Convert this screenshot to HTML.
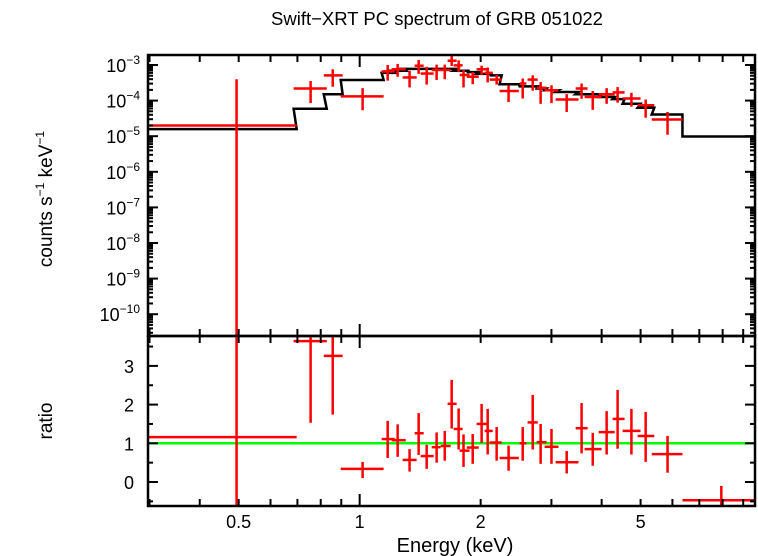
<!DOCTYPE html>
<html><head><meta charset="utf-8"><style>
html,body{margin:0;padding:0;background:#fff;}
svg{display:block;font-family:"Liberation Sans",sans-serif;}
</style></head><body>
<svg id="chart" width="758" height="556" viewBox="0 0 758 556" xmlns="http://www.w3.org/2000/svg">
<text x="437" y="25" font-size="18.5" text-anchor="middle">Swift−XRT PC spectrum of GRB 051022</text>
<g id="topPanel"></g>
<g id="botPanel"></g>
<text transform="translate(52,199) rotate(-90)" font-size="19" text-anchor="middle">counts s<tspan font-size="12" dy="-8">−1</tspan><tspan dy="8"> keV</tspan><tspan font-size="12" dy="-8">−1</tspan></text>
<text transform="translate(52,421) rotate(-90)" font-size="19" text-anchor="middle">ratio</text>
<text x="455" y="552" font-size="20" text-anchor="middle">Energy (keV)</text>
</svg>
<script>
const eCen=[0.494,0.755,0.857,1.017,1.174,1.243,1.331,1.402,1.468,1.554,1.628,1.694,1.763,1.813,1.911,2.011,2.082,2.192,2.347,2.545,2.695,2.820,3.001,3.274,3.566,3.801,4.116,4.383,4.744,5.147,5.835,7.94];
const eLo=[0.297,0.685,0.814,0.897,1.134,1.201,1.279,1.370,1.418,1.511,1.590,1.655,1.713,1.773,1.847,1.954,2.046,2.106,2.229,2.500,2.617,2.757,2.885,3.073,3.447,3.628,3.933,4.259,4.510,4.916,5.329,6.355];
const eHi=[0.697,0.828,0.907,1.147,1.222,1.302,1.386,1.443,1.528,1.590,1.684,1.743,1.804,1.877,1.978,2.094,2.143,2.256,2.489,2.599,2.773,2.917,3.124,3.503,3.691,3.998,4.311,4.562,4.998,5.408,6.355,9.63];
const specLog=[-4.70,-3.66,-3.29,-3.88,-3.18,-3.12,-3.35,-3.02,-3.24,-3.14,-3.14,-2.88,-3.01,-3.28,-3.33,-3.12,-3.22,-3.41,-3.73,-3.52,-3.41,-3.64,-3.71,-3.97,-3.66,-3.90,-3.82,-3.77,-3.94,-4.13,-4.53,null];
const specErrUp=[-3.4,-3.45,-3.12,-3.65,-3.0,-2.97,-3.16,-2.86,-3.05,-2.99,-2.99,-2.72,-2.87,-3.14,-3.20,-3.02,-3.07,-3.28,-3.57,-3.38,-3.29,-3.48,-3.57,-3.82,-3.52,-3.73,-3.65,-3.62,-3.78,-3.97,-4.32,null];
const specErrDn=[-12,-4.07,-3.61,-4.27,-3.44,-3.33,-3.63,-3.25,-3.55,-3.42,-3.40,-3.03,-3.20,-3.63,-3.54,-3.28,-3.49,-3.55,-4.04,-3.94,-3.72,-4.09,-4.07,-4.32,-3.95,-4.26,-4.09,-4.06,-4.17,-4.48,-4.96,null];
const modelLog=[-4.80,-4.23,-3.82,-3.42,-3.22,-3.16,-3.11,-3.11,-3.11,-3.11,-3.11,-3.11,-3.16,-3.16,-3.20,-3.25,-3.25,-3.29,-3.54,-3.60,-3.60,-3.66,-3.71,-3.76,-3.82,-3.82,-3.90,-3.96,-4.09,-4.20,-4.39,-5.01];
const ratio=[1.16,3.64,3.26,0.34,1.11,1.08,0.57,1.26,0.67,0.90,0.93,2.02,1.37,0.81,0.89,1.50,1.32,1.02,0.62,1.00,1.54,1.03,0.91,0.51,1.39,0.85,1.29,1.63,1.32,1.19,0.72,-0.47];
const ratioUp=[9,9,9,0.52,1.58,1.49,0.85,1.78,0.96,1.28,1.32,2.64,1.90,1.23,1.24,2.02,1.89,1.42,0.94,1.42,2.25,1.50,1.37,0.80,2.04,1.27,1.83,2.38,1.89,1.81,1.19,-0.1];
const ratioDn=[-9,1.53,1.74,0.10,0.62,0.65,0.27,0.70,0.34,0.50,0.55,1.38,0.84,0.39,0.47,1.01,0.71,0.55,0.29,0.55,0.84,0.47,0.47,0.22,0.74,0.42,0.71,0.86,0.71,0.52,0.24,-9];
const xTicksMajor=[0.5,1,2,5];
const xTickLabels=["0.5","1","2","5"];
const topDecades=[-3,-4,-5,-6,-7,-8,-9,-10];
const ratioTicks=[0,1,2,3];

const NS="http://www.w3.org/2000/svg";
const X0=148,X1=755,TT=55,TB=336,BB=506;
const xLog0=Math.log10(0.2974),xLog1=Math.log10(9.63);
function xs(e){return X0+(Math.log10(e)-xLog0)/(xLog1-xLog0)*(X1-X0);}
function ysTop(l){return 65-(l+3)*35.6;}
function ysBot(r){return 482-r*38.7;}
function clampT(y){return Math.max(TT,Math.min(TB,y));}
function clampB(y){return Math.max(TB,Math.min(BB,y));}
function mk(tag,attrs,parent){const el=document.createElementNS(NS,tag);for(const k in attrs)el.setAttribute(k,attrs[k]);parent.appendChild(el);return el;}
const svgRoot=document.getElementById('chart');
const topG=document.getElementById('topPanel'),botG=document.getElementById('botPanel');

const defs=mk('defs',{},svgRoot);
const c1=mk('clipPath',{id:'ct'},defs);mk('rect',{x:X0,y:TT,width:X1-X0,height:TB-TT},c1);
const c2=mk('clipPath',{id:'cb'},defs);mk('rect',{x:X0,y:TB,width:X1-X0,height:BB-TB},c2);

let d='';
for(let i=0;i<eCen.length;i++){const y=ysTop(modelLog[i]);d+=(i?'L':'M')+xs(eLo[i])+','+y+'L'+xs(eHi[i])+','+y;}
const model=mk('path',{d:d,fill:'none',stroke:'#000','stroke-width':2.5,'clip-path':'url(#ct)'},topG);



for(let i=0;i<eCen.length;i++){
  if(specLog[i]===null)continue;
  const g=mk('g',{stroke:'#f00','stroke-width':2.5,'clip-path':'url(#ct)'},topG);
  
  
  const y=ysTop(specLog[i]),x=xs(eCen[i]);
  mk('line',{x1:xs(eLo[i]),x2:xs(eHi[i]),y1:y,y2:y},g);
  mk('line',{x1:x,x2:x,y1:clampT(ysTop(specErrUp[i])),y2:clampT(ysTop(specErrDn[i]))},g);
}
const gl=mk('line',{x1:X0,x2:X1,y1:ysBot(1),y2:ysBot(1),stroke:'#0f0','stroke-width':2.5},botG);


for(let i=0;i<eCen.length;i++){
  const g=mk('g',{stroke:'#f00','stroke-width':2.5,'clip-path':'url(#cb)'},botG);
  
  
  const y=ysBot(ratio[i]),x=xs(eCen[i]);
  mk('line',{x1:xs(eLo[i]),x2:xs(eHi[i]),y1:y,y2:y},g);
  mk('line',{x1:x,x2:x,y1:clampB(ysBot(ratioUp[i])),y2:clampB(ysBot(ratioDn[i]))},g);
}

const f1=mk('rect',{x:X0,y:TT,width:X1-X0,height:TB-TT,fill:'none',stroke:'#000','stroke-width':2.5},topG);

const f2=mk('rect',{x:X0,y:TB,width:X1-X0,height:BB-TB,fill:'none',stroke:'#000','stroke-width':2.5},botG);


const ax=mk('g',{stroke:'#000','stroke-width':2},svgRoot);

const minor=[0.3,0.4,0.5,0.6,0.7,0.8,0.9,1,2,3,4,5,6,7,8,9];
minor.forEach(e=>{const x=xs(e);const L=(e===1)?12:7;
  mk('line',{x1:x,x2:x,y1:TT,y2:TT+L},ax);
  mk('line',{x1:x,x2:x,y1:TB-L,y2:TB+L},ax);
  mk('line',{x1:x,x2:x,y1:BB-L,y2:BB},ax);});
xTicksMajor.forEach((e,i)=>{const t=mk('text',{x:xs(e),y:528,'font-size':18,'text-anchor':'middle',fill:'#000'},svgRoot);t.textContent=xTickLabels[i];
  });

const ay=mk('g',{stroke:'#000','stroke-width':2},topG);

for(let dcd=-11;dcd<=-3;dcd++){for(let m=1;m<10;m++){const y=ysTop(dcd+Math.log10(m));if(y<TT||y>TB)continue;const L=m===1?10:5;
  mk('line',{x1:X0,x2:X0+L,y1:y,y2:y},ay);mk('line',{x1:X1-L,x2:X1,y1:y,y2:y},ay);}}
topDecades.forEach(p=>{const t=mk('text',{x:140,y:ysTop(p)+7,'font-size':18,'text-anchor':'end',fill:'#000'},topG);
  
  t.innerHTML='10<tspan font-size="12" dy="-8">−'+(-p)+'</tspan>';});

const ab=mk('g',{stroke:'#000','stroke-width':2},botG);

for(let r=-0.5;r<=3.5;r+=0.5){const y=ysBot(r);const L=(r%1===0)?10:5;
  mk('line',{x1:X0,x2:X0+L,y1:y,y2:y},ab);mk('line',{x1:X1-L,x2:X1,y1:y,y2:y},ab);}
ratioTicks.forEach(r=>{const t=mk('text',{x:134,y:ysBot(r)+7,'font-size':18,'text-anchor':'end',fill:'#000'},botG);t.textContent=r;
  });
</script>
</body></html>
